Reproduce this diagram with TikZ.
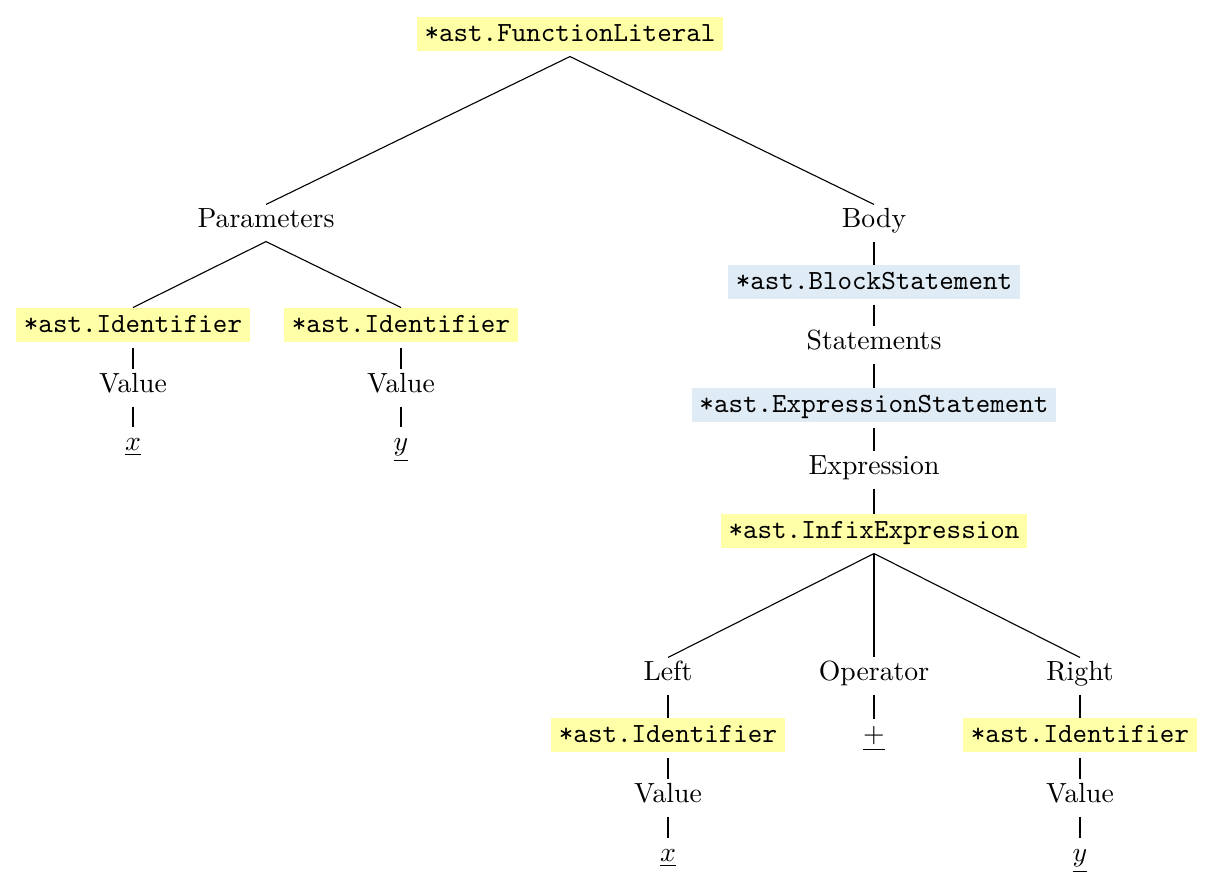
\documentclass[tikz,border=0pt]{standalone}
\definecolor{astyellow}{HTML}{FFFFA8}
\definecolor{astblue}{HTML}{DFEBF5}
\begin{document}
\begin{tikzpicture}[x=0.361pt,y=-0.361pt,
  lbl/.style={anchor=base,inner sep=0pt,text height=8.3pt,text depth=4.7pt},
  ybox/.style={anchor=base,fill=astyellow,inner xsep=2.7pt,inner ysep=0pt,text height=9pt,text depth=3.25pt,font=\ttfamily},
  bbox/.style={ybox,fill=astblue},
  conn/.style={line width=0.4pt}]
\useasboundingbox (0,0) rectangle (1213,890);
\node[ybox] (fl) at (570,42) {*ast.FunctionLiteral};
\node[lbl] (par) at (266,228) {Parameters};
\node[lbl] (body) at (874,228) {Body};
\node[ybox] (id1) at (133,333) {*ast.Identifier};
\node[ybox] (id2) at (401,333) {*ast.Identifier};
\node[lbl] (v1) at (133,393) {Value};
\node[lbl] (v2) at (401,393) {Value};
\node[lbl] (x1) at (133,451) {$\underline{x}$};
\node[lbl] (y1) at (401,451) {$\underline{y}$};
\node[bbox] (blk) at (874,290) {*ast.BlockStatement};
\node[lbl] (stm) at (874,350) {Statements};
\node[bbox] (exs) at (874,413) {*ast.ExpressionStatement};
\node[lbl] (exp) at (874,475) {Expression};
\node[ybox] (inf) at (874,539) {*ast.InfixExpression};
\node[lbl] (left) at (668,681) {Left};
\node[lbl] (op) at (874,681) {Operator};
\node[lbl] (right) at (1080,681) {Right};
\node[ybox] (id3) at (668,743) {*ast.Identifier};
\node[lbl] (plus) at (874,743) {$\underline{+}$};
\node[ybox] (id4) at (1080,743) {*ast.Identifier};
\node[lbl] (v3) at (668,803) {Value};
\node[lbl] (v4) at (1080,803) {Value};
\node[lbl] (x2) at (668,862) {$\underline{x}$};
\node[lbl] (y2) at (1080,862) {$\underline{y}$};
% connectors
\draw[conn] ([yshift=-1.8pt]fl.south) -- (par.north);
\draw[conn] ([yshift=-1.8pt]fl.south) -- (body.north);
\draw[conn] (par.south) -- (id1.north);
\draw[conn] (par.south) -- (id2.north);
\draw[conn] ([yshift=-1.8pt]id1.south) -- (v1.north);
\draw[conn] ([yshift=-1.8pt]id2.south) -- (v2.north);
\draw[conn] (v1.south) -- (x1.north);
\draw[conn] (v2.south) -- (y1.north);
\draw[conn] (body.south) -- (blk.north);
\draw[conn] ([yshift=-1.8pt]blk.south) -- (stm.north);
\draw[conn] (stm.south) -- (exs.north);
\draw[conn] ([yshift=-1.8pt]exs.south) -- (exp.north);
\draw[conn] (exp.south) -- (inf.north);
\draw[conn] ([yshift=-1.8pt]inf.south) -- (left.north);
\draw[conn] ([yshift=-1.8pt]inf.south) -- (op.north);
\draw[conn] ([yshift=-1.8pt]inf.south) -- (right.north);
\draw[conn] (left.south) -- (id3.north);
\draw[conn] (op.south) -- (plus.north);
\draw[conn] (right.south) -- (id4.north);
\draw[conn] ([yshift=-1.8pt]id3.south) -- (v3.north);
\draw[conn] ([yshift=-1.8pt]id4.south) -- (v4.north);
\draw[conn] (v3.south) -- (x2.north);
\draw[conn] (v4.south) -- (y2.north);
\end{tikzpicture}
\end{document}
